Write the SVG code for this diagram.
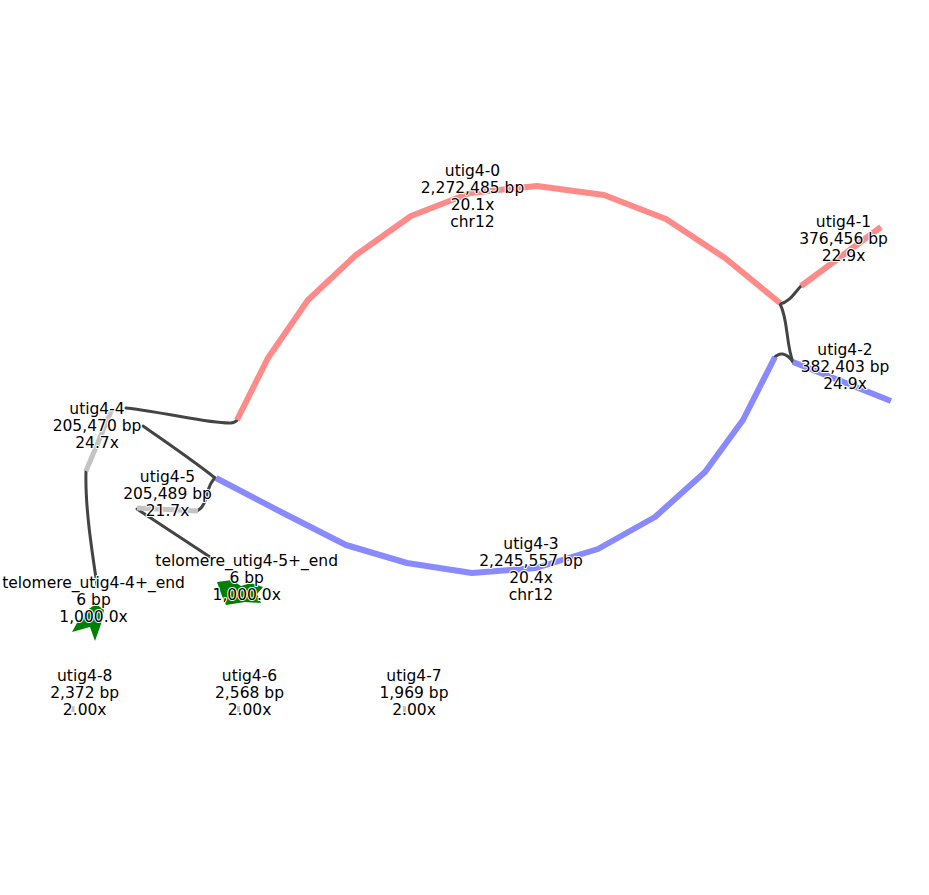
<svg xmlns="http://www.w3.org/2000/svg" width="929" height="895" viewBox="0 0 929 895">
<style>
.n{fill:none;stroke-linecap:butt;stroke-linejoin:round;stroke-width:6}
.r{stroke:#ff8a8a}
.b{stroke:#8a8aff}
.g{stroke:#c4c4c4;stroke-width:5}
.e{fill:none;stroke:#444;stroke-width:3;stroke-linecap:round}
.t{fill:#008000}
text{font-family:"DejaVu Sans",sans-serif;font-size:15.5px;fill:#000;text-anchor:middle;stroke:#fff;stroke-width:2;paint-order:stroke;stroke-linejoin:round}
</style>
<rect width="929" height="895" fill="#fff"/>
<g id="connectors">
<path class="e" d="M126,408 C170,413 210,424 231,423 Q236,422 237,420"/>
<path class="e" d="M143,426 C170,445 195,462 215,478"/>
<path class="e" d="M215,478 C205,486 209,505 197,511"/>
<path class="e" d="M137,509 L210,557"/>
<path class="e" d="M86,471 C85,505 91,545 97,585"/>
<path class="e" d="M780,304 C790,302 795,292 801,286"/>
<path class="e" d="M780,304 C788,318 786,345 793,362"/>
<path class="e" d="M774,358 C779,352 786,352 793,362"/>
</g>
<g id="utig4-0"><polyline class="n r" points="237,420 268,358 308,300 356,255 411,216 470,193 537,186 604,195 666,219 725,258 780,303"/></g>
<g id="utig4-1"><polyline class="n r" points="801,286 881,227"/></g>
<g id="utig4-2"><polyline class="n b" points="793,362 891,401"/></g>
<g id="utig4-3"><polyline class="n b" points="775,357 743,420 705,472 655,517 598,549 536,568 472,573 407,563 346,545 285,514 216,478"/></g>
<g id="utig4-4"><polyline class="n g" points="112,409 86,471"/></g>
<g id="utig4-5"><polyline class="n g" points="137,508 198,511"/></g>
<g id="telomere_utig4-4+_end"><polygon class="t" points="72,632 78,621 86,611 96,604 104,610 101,624 95,641 90,627"/></g>
<g id="telomere_utig4-5+_end"><polygon class="t" points="217,582 232,580 241,586 251,583 263,587 257,594 261,603 245,602 226,605 222,596"/></g>
<g id="utig4-8"><line x1="73" y1="706" x2="73" y2="712" stroke="#c4c4c4" stroke-width="3"/></g>
<g id="utig4-6"><line x1="238.5" y1="706" x2="238.5" y2="712" stroke="#c4c4c4" stroke-width="3"/></g>
<g id="utig4-7"><line x1="404.5" y1="706" x2="404.5" y2="712" stroke="#c4c4c4" stroke-width="3"/></g>
<g id="labels">
<text x="472.5" y="175.5">utig4-0</text>
<text x="472.5" y="192.5">2,272,485 bp</text>
<text x="472.5" y="209.5">20.1x</text>
<text x="472.5" y="226.5">chr12</text>
<text x="843.5" y="227">utig4-1</text>
<text x="843.5" y="244">376,456 bp</text>
<text x="843.5" y="261">22.9x</text>
<text x="845" y="355">utig4-2</text>
<text x="845" y="372">382,403 bp</text>
<text x="845" y="389">24.9x</text>
<text x="97" y="414">utig4-4</text>
<text x="97" y="431">205,470 bp</text>
<text x="97" y="448">24.7x</text>
<text x="167.5" y="482">utig4-5</text>
<text x="167.5" y="499">205,489 bp</text>
<text x="167.5" y="516">21.7x</text>
<text x="531" y="549">utig4-3</text>
<text x="531" y="566">2,245,557 bp</text>
<text x="531" y="583">20.4x</text>
<text x="531" y="600">chr12</text>
<text x="93.5" y="588">telomere_utig4-4+_end</text>
<text x="93.5" y="605">6 bp</text>
<text x="93.5" y="622">1,000.0x</text>
<text x="246.7" y="566">telomere_utig4-5+_end</text>
<text x="246.7" y="583">6 bp</text>
<text x="246.7" y="600">1,000.0x</text>
<text x="84.7" y="681">utig4-8</text>
<text x="84.7" y="698">2,372 bp</text>
<text x="84.7" y="715">2.00x</text>
<text x="249.5" y="681">utig4-6</text>
<text x="249.5" y="698">2,568 bp</text>
<text x="249.5" y="715">2.00x</text>
<text x="414" y="681">utig4-7</text>
<text x="414" y="698">1,969 bp</text>
<text x="414" y="715">2.00x</text>
</g>
</svg>
